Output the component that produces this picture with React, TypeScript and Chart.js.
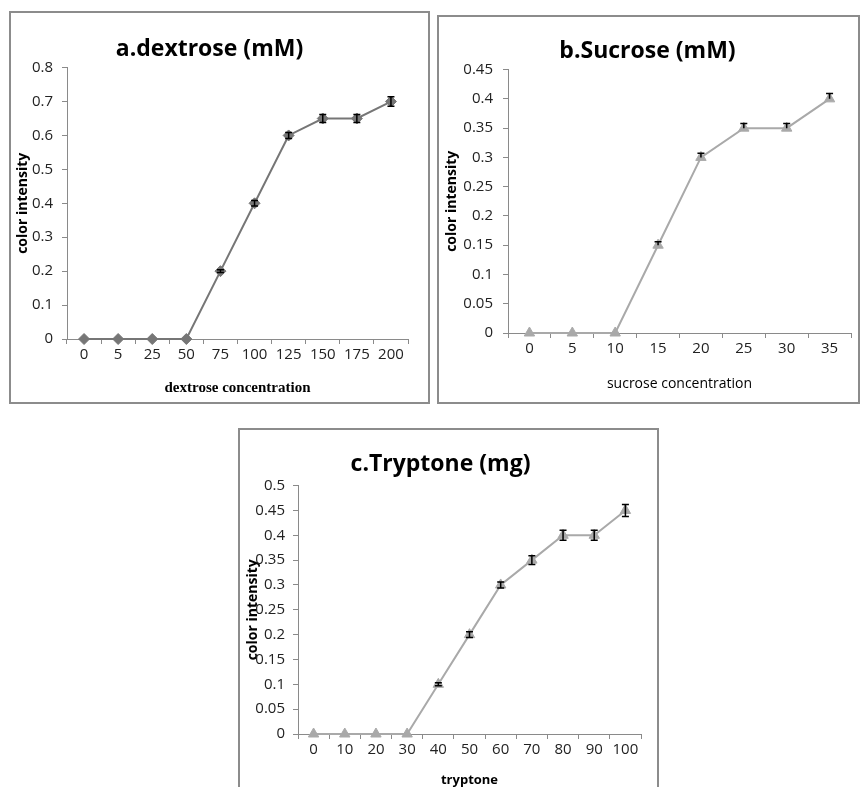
import React, { useEffect, useRef } from "react";
import { Chart, registerables } from "chart.js";

Chart.register(...registerables);

// ---- data ----
const dextroseLabels = ["0", "5", "25", "50", "75", "100", "125", "150", "175", "200"];
const dextroseValues = [0, 0, 0, 0, 0.2, 0.4, 0.6, 0.65, 0.65, 0.7];
const dextroseErrors = [0, 0, 0, 0, 0.004, 0.008, 0.009, 0.012, 0.012, 0.014];

const sucroseLabels = ["0", "5", "10", "15", "20", "25", "30", "35"];
const sucroseValues = [0, 0, 0, 0.15, 0.3, 0.35, 0.35, 0.4];
const sucroseErrors = [0, 0, 0, 0.006, 0.007, 0.008, 0.008, 0.009];

const tryptoneLabels = ["0", "10", "20", "30", "40", "50", "60", "70", "80", "90", "100"];
const tryptoneValues = [0, 0, 0, 0, 0.1, 0.2, 0.3, 0.35, 0.4, 0.4, 0.45];
const tryptoneErrors = [0, 0, 0, 0, 0.003, 0.006, 0.006, 0.009, 0.01, 0.01, 0.012];

const errorBarPlugin = {
  id: "errorBars",
  afterDatasetsDraw(chart: any, _args: any, opts: any) {
    const errs: number[] | undefined = opts && opts.errors;
    if (!errs) return;
    const meta = chart.getDatasetMeta(0);
    const yScale = chart.scales.y;
    const data = chart.data.datasets[0].data as number[];
    const ctx = chart.ctx;
    ctx.save();
    ctx.strokeStyle = "#000";
    ctx.lineWidth = 1.5;
    meta.data.forEach((pt: any, i: number) => {
      const e = errs[i];
      if (!e) return;
      const v = data[i];
      const yTop = yScale.getPixelForValue(v + e);
      const yBot = opts.plusOnly ? pt.y : yScale.getPixelForValue(v - e);
      const x = pt.x;
      const cap = 3.5;
      ctx.beginPath();
      ctx.moveTo(x, yTop);
      ctx.lineTo(x, yBot);
      ctx.moveTo(x - cap, yTop);
      ctx.lineTo(x + cap, yTop);
      if (!opts.plusOnly) {
        ctx.moveTo(x - cap, yBot);
        ctx.lineTo(x + cap, yBot);
      }
      ctx.stroke();
    });
    ctx.restore();
  },
};

type PanelProps = {
  left: number;
  top: number;
  width: number;
  height: number;
  labels: string[];
  values: number[];
  errors: number[];
  plusOnly?: boolean;
  yMax: number;
  yStep: number;
  title: string;
  titlePad: [number, number];
  xTitle: string;
  xTitleFont: any;
  xTitlePad: number;
  yTitlePad: number;
  yAxisWidth: number;
  xAxisHeight: number;
  rightPad: number;
  yTickPad: number;
  color: string;
  pointStyle: string;
  pointRadius: number;
};

function Panel(p: PanelProps) {
  const ref = useRef<HTMLCanvasElement | null>(null);
  const cw = p.width - 4;
  const ch = p.height - 4;
  useEffect(() => {
    if (!ref.current) return;
    const axisColor = "#8a8a8a";
    const tickFont = { family: "'Open Sans'", size: 15 };
    const chart = new Chart(ref.current, {
      type: "line",
      data: {
        labels: p.labels,
        datasets: [
          {
            data: p.values,
            borderColor: p.color,
            backgroundColor: p.color,
            borderWidth: 2,
            pointStyle: p.pointStyle as any,
            pointRadius: p.pointRadius,
            pointBackgroundColor: p.color,
            pointBorderColor: p.color,
            pointBorderWidth: 1,
            tension: 0,
            clip: false,
          },
        ],
      },
      plugins: [errorBarPlugin as any],
      options: {
        responsive: false,
        animation: false,
        events: [],
        layout: { padding: { left: 0, right: p.rightPad, top: 0, bottom: 0 } },
        plugins: {
          legend: { display: false },
          tooltip: { enabled: false },
          title: {
            display: true,
            text: p.title,
            color: "#000",
            font: { family: "'Open Sans'", size: 23, weight: "bold" },
            padding: { top: p.titlePad[0], bottom: p.titlePad[1] },
          },
          errorBars: { errors: p.errors, plusOnly: !!p.plusOnly },
        } as any,
        scales: {
          x: {
            type: "category",
            offset: true,
            grid: {
              offset: true,
              drawOnChartArea: false,
              drawTicks: true,
              tickLength: 5,
              color: axisColor,
            },
            border: { display: true, color: axisColor, width: 1 },
            ticks: { color: "#222", font: tickFont, padding: 2, maxRotation: 0, autoSkip: false },
            title: {
              display: true,
              text: p.xTitle,
              color: "#000",
              font: p.xTitleFont,
              padding: { top: 0, bottom: p.xTitlePad },
            },
            afterFit: (s: any) => {
              s.height = p.xAxisHeight;
            },
          },
          y: {
            min: 0,
            max: p.yMax,
            grid: {
              drawOnChartArea: false,
              drawTicks: true,
              tickLength: 5,
              color: axisColor,
            },
            border: { display: true, color: axisColor, width: 1 },
            ticks: {
              stepSize: p.yStep,
              color: "#222",
              font: tickFont,
              padding: p.yTickPad,
              callback: (v: any) => String(+Number(v).toFixed(2)),
            },
            title: {
              display: true,
              text: "color intensity",
              color: "#000",
              font: { family: "'Open Sans'", size: 14, weight: "bold" },
              padding: { top: p.yTitlePad, bottom: 0 },
            },
            afterFit: (s: any) => {
              s.width = p.yAxisWidth;
            },
          },
        },
      } as any,
    });
    return () => chart.destroy();
  }, []);
  return (
    <div
      style={{
        position: "absolute",
        left: p.left,
        top: p.top,
        width: p.width - 4,
        height: p.height - 4,
        border: "2px solid #8c8c8c",
        background: "#fff",
      }}
    >
      <canvas ref={ref} width={cw} height={ch} style={{ display: "block", width: cw, height: ch }} />
    </div>
  );
}

export default function App() {
  return (
    <div
      style={{
        position: "absolute",
        left: 0,
        top: 0,
        width: 860,
        height: 787,
        overflow: "hidden",
        background: "#fff",
      }}
    >
      <Panel
        left={9}
        top={11}
        width={421}
        height={393}
        labels={dextroseLabels}
        values={dextroseValues}
        errors={dextroseErrors}
        yMax={0.8}
        yStep={0.1}
        title="a.dextrose (mM)"
        titlePad={[23, 4]}
        xTitle="dextrose concentration"
        xTitleFont={{ family: "'Liberation Serif'", size: 15, weight: "bold" }}
        xTitlePad={5}
        yTitlePad={4}
        yAxisWidth={56}
        xAxisHeight={63}
        rightPad={20}
        yTickPad={9}
        color="#767676"
        pointStyle="rectRot"
        pointRadius={5.5}
      />
      <Panel
        left={437}
        top={15}
        width={423}
        height={389}
        labels={sucroseLabels}
        values={sucroseValues}
        errors={sucroseErrors}
        plusOnly
        yMax={0.45}
        yStep={0.05}
        title="b.Sucrose (mM)"
        titlePad={[21, 4]}
        xTitle="sucrose concentration"
        xTitleFont={{ family: "'Open Sans'", size: 14 }}
        xTitlePad={10}
        yTitlePad={5}
        yAxisWidth={69}
        xAxisHeight={69}
        rightPad={2}
        yTickPad={10}
        color="#a9a9a9"
        pointStyle="triangle"
        pointRadius={6}
      />
      <Panel
        left={238}
        top={428}
        width={421}
        height={369}
        labels={tryptoneLabels}
        values={tryptoneValues}
        errors={tryptoneErrors}
        yMax={0.5}
        yStep={0.05}
        title="c.Tryptone (mg)"
        titlePad={[21, 7]}
        xTitle="tryptone"
        xTitleFont={{ family: "'Open Sans'", size: 13, weight: "bold" }}
        xTitlePad={7}
        yTitlePad={5}
        yAxisWidth={58}
        xAxisHeight={61}
        rightPad={16}
        yTickPad={8}
        color="#a9a9a9"
        pointStyle="triangle"
        pointRadius={6}
      />
    </div>
  );
}
